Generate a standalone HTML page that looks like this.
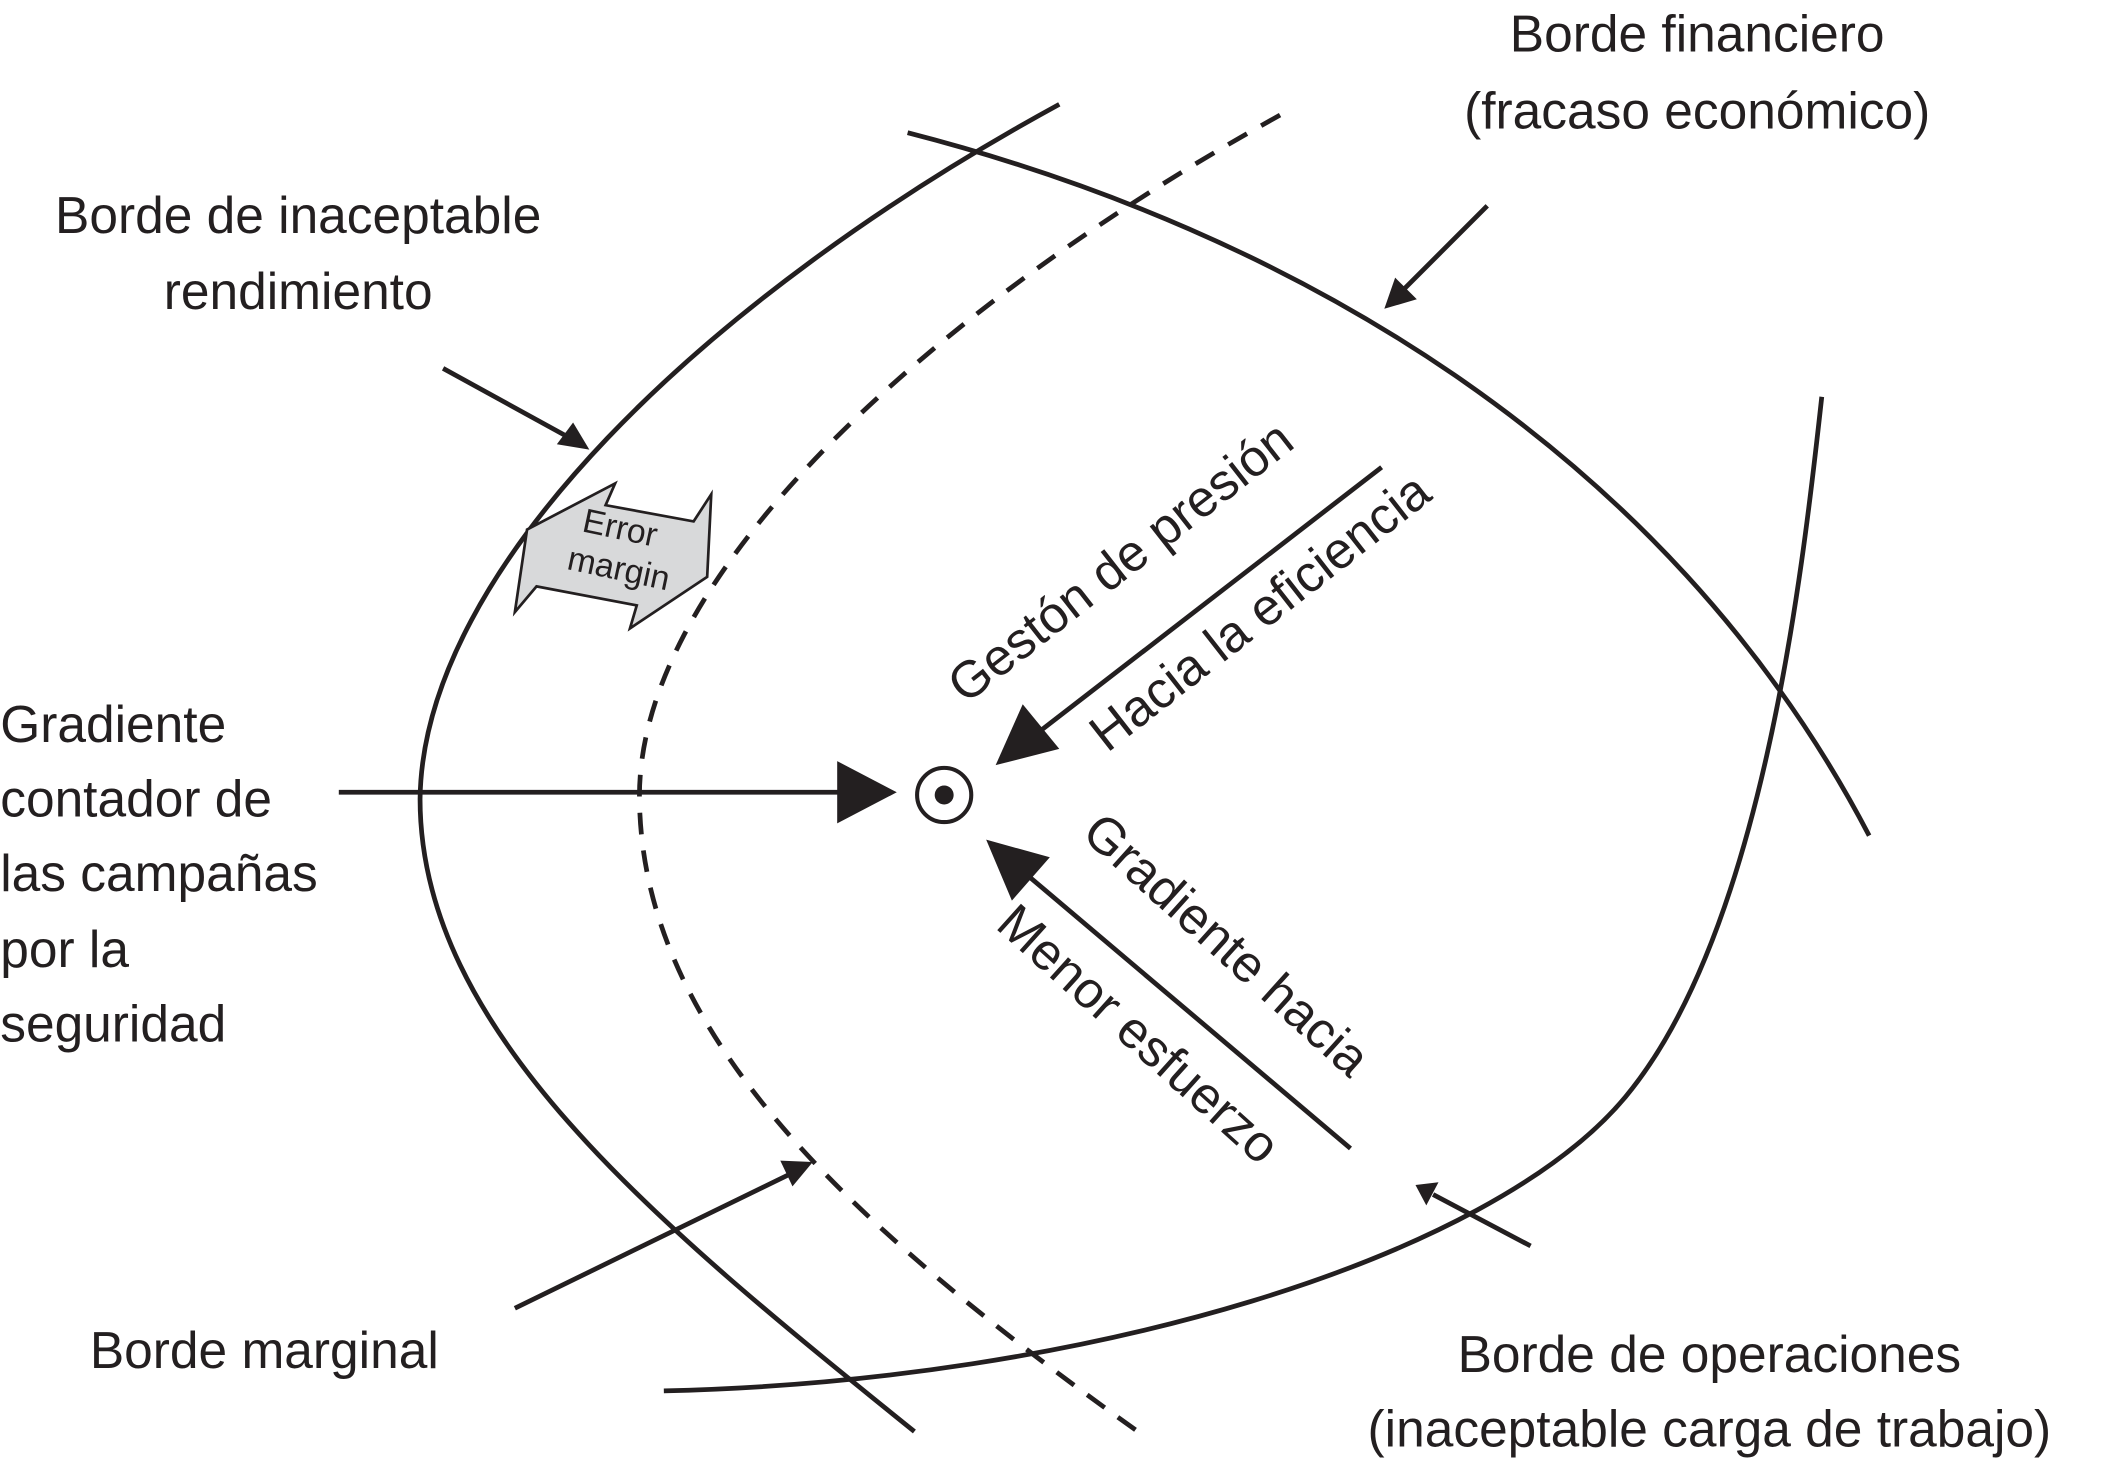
<!DOCTYPE html>
<html><head><meta charset="utf-8"><style>
html,body{margin:0;padding:0;background:#fff}
svg{display:block}
text{font-family:"Liberation Sans",Arial,sans-serif;fill:#231f20}
</style></head><body>
<svg width="2124" height="1464" viewBox="0 0 1568 1081" xmlns="http://www.w3.org/2000/svg">
<defs>
<marker id="a" viewBox="0 0 10 10" refX="9" refY="5" markerWidth="7" markerHeight="7" markerUnits="userSpaceOnUse" orient="auto">
</marker>
</defs>
<g fill="none" stroke="#231f20" stroke-width="3.5">
<path d="M782,77 C520,220 312,420 310,590 C310,760 480,900 675,1057"/>
<path d="M670,98 C950,170 1230,330 1380,617"/>
<path d="M490,1027 C800,1020 1100,930 1200,810 C1300,690 1330,430 1345,293"/>
<path d="M945,85 C700,220 470,420 472,590 C474,760 620,900 840,1057" stroke-dasharray="16,12"/>
<line x1="1098" y1="152" x2="1035" y2="215"/>
<line x1="327" y1="272" x2="418" y2="322"/>
<line x1="1130" y1="920" x2="1058" y2="882"/>
<line x1="380" y1="966" x2="585" y2="866"/>
<line x1="250" y1="585" x2="625" y2="585"/>
<line x1="1020" y1="345" x2="765" y2="542"/>
<line x1="997" y1="848" x2="757" y2="645"/>
<circle cx="697" cy="587" r="20" stroke-width="3"/>
</g>
<g fill="#231f20">
<polygon points="1022,228 1030,205 1046,221"/>
<polygon points="435,332 411,328 423,312"/>
<polygon points="1045,875 1062,873 1053,890" />
<polygon points="600,858 576,857 585,876"/>
<polygon points="662,585 618,562 618,608"/>
<polygon points="735,565 755,520 782,553"/>
<polygon points="728,620 775,633 747,665"/>
<circle cx="697" cy="587" r="7"/>
</g>
<polygon points="389,391 454,357 447,373 512,385 525,365 522,426 465,464 470,447 396,433 380,452" fill="#d8d9da" stroke="#231f20" stroke-width="2"/>
<g font-size="25">
<text x="456" y="398" text-anchor="middle" transform="rotate(12 456 398)">Error</text>
<text x="455" y="428" text-anchor="middle" transform="rotate(12 455 428)">margin</text>
</g>
<g font-size="38">
<text x="1253" y="38" text-anchor="middle">Borde financiero</text>
<text x="1253" y="95" text-anchor="middle">(fracaso económico)</text>
<text x="220" y="172" text-anchor="middle">Borde de inaceptable</text>
<text x="220" y="228" text-anchor="middle">rendimiento</text>
<text x="0" y="548">Gradiente</text>
<text x="0" y="603">contador de</text>
<text x="0" y="658">las campañas</text>
<text x="0" y="714">por la</text>
<text x="0" y="769">seguridad</text>
<text x="195" y="1010" text-anchor="middle">Borde marginal</text>
<text x="1262" y="1013" text-anchor="middle">Borde de operaciones</text>
<text x="1262" y="1068" text-anchor="middle">(inaceptable carga de trabajo)</text>
<text x="835" y="425" text-anchor="middle" transform="rotate(-38 835 425)">Gestón de presión</text>
<text x="938" y="462" text-anchor="middle" transform="rotate(-38 938 462)">Hacia la eficiencia</text>
<text x="897" y="707" text-anchor="middle" transform="rotate(42 897 707)">Gradiente hacia</text>
<text x="832" y="773" text-anchor="middle" transform="rotate(42 832 773)">Menor esfuerzo</text>
</g>
</svg>
</body></html>
